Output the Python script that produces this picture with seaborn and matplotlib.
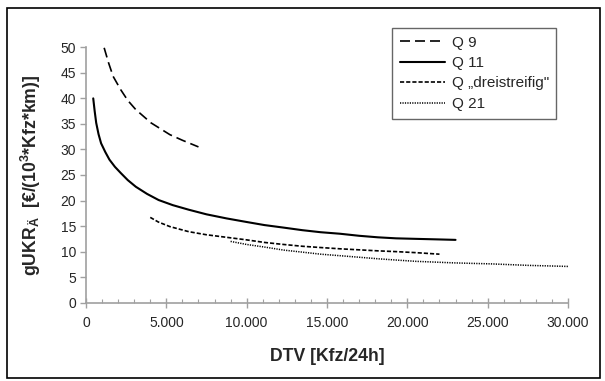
import matplotlib
matplotlib.use("Agg")
import matplotlib.pyplot as plt
import seaborn as sns
import pandas as pd
from matplotlib.patches import Rectangle
from matplotlib.ticker import MultipleLocator

# ---- data ----
q9_x = [1130, 1400, 1690, 2160, 2600, 3100, 4050, 5220, 6000, 7000]
q9_y = [49.9, 47.0, 44.3, 41.7, 39.6, 37.8, 35.2, 32.9, 31.8, 30.5]

q11_x = [450, 540, 635, 780, 940, 1200, 1460, 1800, 2160, 2600, 3100, 3800, 4520, 5400, 6400,
         7500, 8750, 10000, 11100, 12300, 13460, 14600, 15810, 17000, 18170, 19300, 20520, 21800, 23000]
q11_y = [40.0, 37.5, 35.2, 33.0, 31.2, 29.5, 28.0, 26.6, 25.4, 24.0, 22.7, 21.3, 20.1, 19.1, 18.2,
         17.3, 16.5, 15.8, 15.2, 14.7, 14.2, 13.8, 13.5, 13.1, 12.8, 12.6, 12.5, 12.4, 12.3]

q3_x = [4000, 4500, 5220, 6400, 7500, 8750, 10000, 11100, 12300, 13460, 14600, 15810, 17000,
        18170, 19300, 20520, 22000]
q3_y = [16.7, 15.8, 14.9, 13.9, 13.3, 12.8, 12.3, 11.8, 11.4, 11.05, 10.8, 10.55, 10.35,
        10.15, 10.0, 9.8, 9.5]

q21_x = [9000, 10000, 11100, 12300, 13460, 14600, 15810, 17000, 18170, 19300, 20520, 21700,
         22870, 24000, 25220, 26400, 27580, 28800, 30000]
q21_y = [12.0, 11.4, 10.9, 10.3, 9.9, 9.5, 9.2, 8.9, 8.6, 8.35, 8.1, 7.95, 7.8, 7.7, 7.6,
         7.45, 7.3, 7.2, 7.1]

series_names = ["Q 9", "Q 11", "Q \u201edreistreifig\"", "Q 21"]
x_ticks = [0, 5000, 10000, 15000, 20000, 25000, 30000]
x_ticklabels = ["0", "5.000", "10.000", "15.000", "20.000", "25.000", "30.000"]
y_ticks = [0, 5, 10, 15, 20, 25, 30, 35, 40, 45, 50]

x_label = "DTV [Kfz/24h]"
y_label = r"gUKR$_{\mathregular{Ä}}$  [€/(10$^{\mathregular{3}}$*Kfz*km)]"

# ---- plotting ----
sns.set_style("white")
plt.rcParams["font.family"] = ["Liberation Sans", "DejaVu Sans"]
plt.rcParams["mathtext.default"] = "regular"

W, H = 605, 381
ax_l, ax_r, ax_t, ax_b = 86, 568, 47.3, 302.7
fig = plt.figure(figsize=(W / 100, H / 100), dpi=100)
ax = fig.add_axes([ax_l / W, 1 - ax_b / H, (ax_r - ax_l) / W, (ax_b - ax_t) / H])

styles = [
    dict(dashes=(6, 3), lw=1.2),
    dict(dashes=(None, None), lw=1.5),
    dict(dashes=(2.5, 1.2), lw=1.2),
    dict(dashes=(0.8, 0.8), lw=1.1),
]
xs = [q9_x, q11_x, q3_x, q21_x]
ys = [q9_y, q11_y, q3_y, q21_y]
for name, x, y, st in zip(series_names, xs, ys, styles):
    df = pd.DataFrame({"x": x, "y": y})
    sns.lineplot(data=df, x="x", y="y", ax=ax, color="black", lw=st["lw"], label=name,
                 estimator=None, sort=False)
    line = ax.lines[-1]
    if st["dashes"][0] is None:
        line.set_linestyle("-")
    else:
        line.set_dashes(st["dashes"])

ax.set_xlim(0, 30000)
ax.set_ylim(0, 50)
ax.set_xticks(x_ticks)
ax.set_xticklabels(x_ticklabels)
ax.set_yticks(y_ticks)
ax.xaxis.set_minor_locator(MultipleLocator(1000))

for s in ["top", "right"]:
    ax.spines[s].set_visible(False)
for s in ["left", "bottom"]:
    ax.spines[s].set_color("#a0a0a0")
    ax.spines[s].set_linewidth(1.2)

ax.tick_params(axis="x", which="major", direction="inout", length=7, width=1, color="#a0a0a0",
               labelsize=10, pad=6, bottom=True)
ax.tick_params(axis="x", which="minor", direction="in", length=3, width=0.8, color="#a0a0a0",
               bottom=True)
ax.tick_params(axis="y", which="major", direction="out", length=4, width=1, color="#a0a0a0",
               labelsize=10, pad=3, left=True)

ax.set_xlabel(x_label, fontsize=12.7, fontweight="bold", va="top")
ax.set_ylabel(y_label, fontsize=12.7, fontweight="bold")
ax.xaxis.set_label_coords(0.5, -(348 - ax_b) / (ax_b - ax_t))
ax.yaxis.set_label_coords(-(ax_l - 43) / (ax_r - ax_l), 0.5)

leg = ax.legend(loc="upper left",
                bbox_to_anchor=((392 - ax_l) / (ax_r - ax_l), (ax_b - 28) / (ax_b - ax_t)),
                frameon=True, fancybox=False, fontsize=11, handlelength=3.0,
                borderpad=0.5, labelspacing=0.42, handletextpad=0.4, borderaxespad=0)
leg.get_frame().set_edgecolor("#404040")
leg.get_frame().set_linewidth(1.0)

fig.patches.append(Rectangle((7 / W, 1 - 378 / H), (600 - 7) / W, (378 - 8) / H,
                             transform=fig.transFigure, fill=False, edgecolor="black",
                             linewidth=1.2))

fig.savefig("out.png", dpi=100)
